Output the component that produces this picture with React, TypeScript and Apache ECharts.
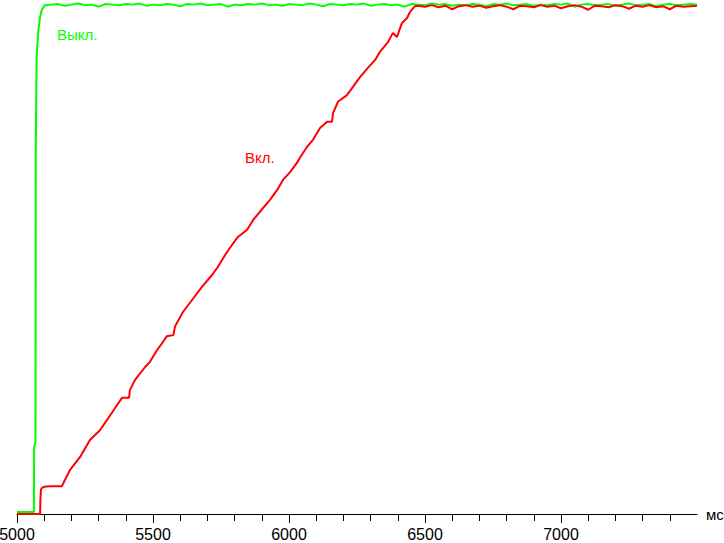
import React, { useEffect, useRef } from "react";
import * as echarts from "echarts";

// X axis (ms)
const xMin = 5000;
const xMax = 7500;
const xTickValues = [5000, 5500, 6000, 6500, 7000];
const xAxisName = "мс";

// "Выкл." (off) – green: transition part
const offRiseX = [5000, 5062, 5063, 5068, 5069, 5072, 5078, 5085, 5091, 5103];
const offRiseY = [0.4, 0.4, 13.0, 14.0, 70.4, 88.7, 93.8, 96.7, 98.1, 99.0];
// green plateau, sampled every 25 ms from 5125 ms
const offPlateauStart = 5125;
const offPlateauStep = 25;
const offPlateauY = [
  99.1, 99.2, 98.9, 99.1, 99.3, 99.0, 99.1, 98.7, 99.2, 99.1,
  99.0, 99.2, 99.1, 99.3, 98.9, 99.1, 99.0, 99.2, 99.1, 98.8,
  99.2, 99.1, 99.3, 99.0, 99.1, 99.2, 98.7, 99.1, 99.0, 99.2,
  99.1, 99.3, 99.0, 99.1, 98.9, 99.2, 99.1, 99.0, 99.3, 99.1,
  98.8, 99.2, 99.1, 99.0, 99.2, 99.1, 99.3, 98.9, 99.1, 99.2,
  99.0, 99.1, 98.7, 99.2, 99.1, 99.0, 99.3, 99.1, 99.2, 98.9,
  99.1, 99.0, 99.2, 99.1, 98.8, 99.2, 99.1, 99.3, 99.0, 99.1,
  99.2, 98.9, 99.1, 99.0, 99.2, 99.1, 99.3, 98.7, 99.1, 99.2,
  99.0, 99.1, 99.2, 98.9, 99.1, 99.3, 99.0, 99.1, 99.2, 98.8,
  99.1, 99.2, 99.0, 99.1, 99.2, 99.1,
];

// "Вкл." (on) – red: ramp part
const onRampX = [
  5000, 5085, 5086, 5088, 5092, 5099, 5121, 5165, 5176, 5195,
  5232, 5268, 5305, 5331, 5368, 5386, 5412, 5415, 5434, 5471,
  5489, 5515, 5537, 5551, 5575, 5581, 5610, 5636, 5680, 5717,
  5739, 5765, 5783, 5812, 5846, 5868, 5893, 5930, 5956, 5978,
  6004, 6029, 6040, 6066, 6088, 6114, 6140, 6158, 6162, 6180,
  6213, 6235, 6261, 6290, 6316, 6334, 6364, 6382, 6397, 6415,
  6434, 6445, 6463,
];
const onRampY = [
  0, 0, 2.7, 4.7, 5.1, 5.3, 5.4, 5.4, 6.6, 8.6,
  11.1, 14.4, 16.3, 18.3, 21.2, 22.6, 22.6, 24.1, 26.1, 28.6,
  29.6, 31.9, 33.5, 34.6, 34.8, 36.5, 39.3, 41.1, 44.2, 46.5,
  48.1, 50.4, 51.8, 53.9, 55.3, 57.2, 58.8, 61.1, 63.0, 65.0,
  66.5, 68.3, 69.3, 71.4, 72.8, 75.1, 76.3, 76.3, 78.0, 80.2,
  81.5, 83.1, 85.0, 86.8, 88.3, 89.9, 91.8, 93.6, 92.8, 95.5,
  96.5, 97.7, 98.8,
];
// red plateau, sampled every 25 ms from 6475 ms
const onPlateauStart = 6475;
const onPlateauStep = 25;
const onPlateauY = [
  98.9, 98.7, 99.0, 98.6, 98.9, 98.2, 98.8, 99.0, 98.7, 98.9,
  98.5, 98.8, 99.0, 98.7, 98.2, 98.9, 98.8, 98.6, 99.0, 98.7,
  98.9, 98.4, 98.8, 99.0, 98.7, 98.1, 98.9, 98.8, 98.6, 99.0,
  98.8, 98.3, 98.9, 98.7, 99.0, 98.6, 98.8, 98.2, 98.9, 98.7,
  98.8, 98.9,
];

const offLabel = "Выкл.";
const onLabel = "Вкл.";

const GREEN = "#00ff00";
const RED = "#ff0000";
const FONT = 'Arial, "Liberation Sans", sans-serif';

function buildSeries(
  rx: number[],
  ry: number[],
  start: number,
  step: number,
  py: number[]
): number[][] {
  const out: number[][] = rx.map((x, i) => [x, ry[i]]);
  py.forEach((v, i) => out.push([start + i * step, v]));
  return out;
}

export default function App() {
  const ref = useRef<HTMLDivElement>(null);

  useEffect(() => {
    if (!ref.current) return;
    const chart = echarts.init(ref.current, null, { renderer: "svg" });
    const offData = buildSeries(offRiseX, offRiseY, offPlateauStart, offPlateauStep, offPlateauY);
    const onData = buildSeries(onRampX, onRampY, onPlateauStart, onPlateauStep, onPlateauY);

    chart.setOption({
      animation: false,
      backgroundColor: "#ffffff",
      grid: {
        left: 17,
        right: 27,
        top: 0,
        bottom: 29,
        containLabel: false,
        outerBoundsMode: "none",
      },
      xAxis: {
        type: "value",
        min: xMin,
        max: xMax,
        interval: 500,
        name: xAxisName,
        nameLocation: "end",
        nameGap: 9,
        nameTextStyle: { color: "#000", fontSize: 15, fontFamily: FONT },
        splitLine: { show: false },
        axisLine: { show: true, onZero: false, lineStyle: { color: "#000", width: 1 } },
        axisTick: {
          show: true,
          inside: false,
          length: 9,
          customValues: xTickValues,
          lineStyle: { color: "#000", width: 1 },
        },
        minorTick: {
          show: true,
          splitNumber: 5,
          length: 7,
          lineStyle: { color: "#000", width: 1 },
        },
        minorSplitLine: { show: false },
        axisLabel: {
          customValues: xTickValues,
          formatter: (v: number) => String(v),
          color: "#000",
          fontSize: 16,
          fontFamily: FONT,
          margin: 12,
          hideOverlap: false,
        },
      },
      yAxis: {
        type: "value",
        min: 0,
        max: 100,
        show: false,
        splitLine: { show: false },
      },
      series: [
        {
          type: "line",
          data: offData,
          showSymbol: false,
          symbol: "none",
          lineStyle: { color: GREEN, width: 2 },
          itemStyle: { color: GREEN },
          clip: false,
          z: 2,
        },
        {
          type: "line",
          data: onData,
          showSymbol: false,
          symbol: "none",
          lineStyle: { color: RED, width: 2 },
          itemStyle: { color: RED },
          clip: false,
          z: 3,
        },
      ],
      graphic: [
        {
          type: "text",
          left: 57,
          top: 27,
          style: { text: offLabel, fill: GREEN, fontSize: 15, fontFamily: FONT },
        },
        {
          type: "text",
          left: 245,
          top: 150,
          style: { text: onLabel, fill: RED, fontSize: 15, fontFamily: FONT },
        },
      ],
    });
    return () => chart.dispose();
  }, []);

  return (
    <div
      ref={ref}
      style={{ position: "fixed", left: 0, top: 0, width: 724, height: 543, background: "#fff" }}
    />
  );
}
